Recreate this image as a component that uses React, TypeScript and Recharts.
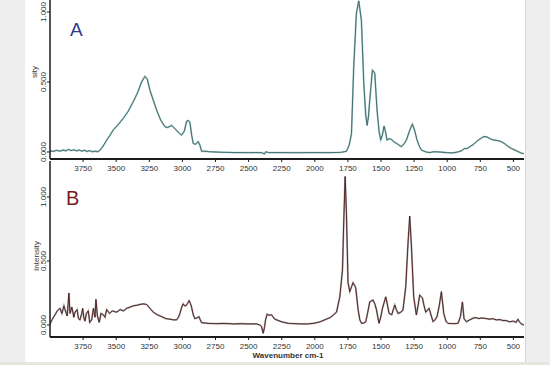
import {Line, LineChart, XAxis, YAxis} from "recharts";

// wavenumber (cm-1), intensity
const spectrumA: [number, number][] = [
    [4000, 0.008], [3975, 0.004], [3950, 0.012], [3925, 0.006], [3900, 0.014], [3880, 0.008],
    [3860, 0.018], [3840, 0.01], [3820, 0.016], [3800, 0.008], [3780, 0.014], [3760, 0.006],
    [3740, 0.012], [3720, 0.004], [3700, 0.01], [3680, 0.002], [3660, 0.006], [3640, 0.002],
    [3623, 0.012], [3600, 0.04], [3575, 0.08], [3547, 0.12], [3520, 0.16], [3490, 0.19],
    [3447, 0.24], [3410, 0.29], [3371, 0.36], [3340, 0.42], [3308, 0.5], [3283, 0.54],
    [3265, 0.52], [3245, 0.44], [3220, 0.37], [3195, 0.3], [3165, 0.23], [3132, 0.18],
    [3110, 0.175], [3082, 0.19], [3060, 0.17], [3030, 0.14], [3006, 0.12], [2985, 0.15],
    [2968, 0.22], [2955, 0.225], [2943, 0.21], [2930, 0.12], [2918, 0.06], [2900, 0.055],
    [2881, 0.075], [2868, 0.05], [2855, 0.005], [2830, 0.006], [2800, 0.002], [2750, 0.0],
    [2700, -0.002], [2650, -0.003], [2600, -0.004], [2550, -0.004], [2500, -0.005], [2450, -0.004],
    [2400, -0.005], [2380, -0.014], [2370, 0.002], [2350, -0.004], [2300, -0.004], [2200, -0.005],
    [2100, -0.005], [2000, -0.004], [1900, -0.005], [1800, -0.002], [1761, 0.005], [1740, 0.05],
    [1723, 0.13], [1706, 0.61], [1686, 0.99], [1668, 1.08], [1648, 0.94], [1630, 0.49],
    [1615, 0.26], [1605, 0.19], [1595, 0.25], [1585, 0.37], [1565, 0.585], [1555, 0.575],
    [1547, 0.56], [1530, 0.3], [1515, 0.15], [1502, 0.086], [1490, 0.12], [1477, 0.186],
    [1465, 0.14], [1455, 0.086], [1440, 0.095], [1421, 0.09], [1400, 0.07], [1383, 0.062],
    [1365, 0.05], [1346, 0.038], [1325, 0.06], [1308, 0.086], [1285, 0.15], [1263, 0.2],
    [1245, 0.15], [1228, 0.086], [1210, 0.04], [1195, 0.014], [1160, 0.0], [1132, -0.004],
    [1100, 0.002], [1056, 0.0], [1000, -0.005], [956, -0.006], [920, 0.0], [890, 0.01],
    [868, 0.026], [850, 0.024], [830, 0.038], [800, 0.055], [780, 0.074], [750, 0.095],
    [725, 0.11], [700, 0.108], [680, 0.097], [654, 0.086], [620, 0.082], [591, 0.074],
    [560, 0.055], [540, 0.04], [516, 0.026], [480, 0.01], [440, -0.008], [420, -0.012],
];

const spectrumB: [number, number][] = [
    [4000, 0.008], [3985, 0.04], [3962, 0.08], [3945, 0.11], [3925, 0.13], [3910, 0.09],
    [3895, 0.15], [3887, 0.12], [3870, 0.07], [3857, 0.25], [3849, 0.09], [3835, 0.14],
    [3820, 0.06], [3811, 0.1], [3795, 0.12], [3785, 0.05], [3774, 0.04], [3760, 0.09],
    [3753, 0.13], [3745, 0.06], [3736, 0.03], [3725, 0.09], [3711, 0.11], [3700, 0.02],
    [3685, 0.04], [3672, 0.13], [3660, 0.06], [3653, 0.2], [3642, 0.07], [3628, 0.02],
    [3615, 0.09], [3598, 0.08], [3585, 0.06], [3572, 0.12], [3550, 0.09], [3530, 0.11],
    [3497, 0.1], [3470, 0.12], [3445, 0.11], [3421, 0.13], [3395, 0.14], [3371, 0.15],
    [3340, 0.155], [3320, 0.16], [3296, 0.165], [3270, 0.16], [3245, 0.13], [3220, 0.1],
    [3190, 0.08], [3157, 0.065], [3125, 0.05], [3094, 0.045], [3070, 0.04], [3044, 0.04],
    [3030, 0.06], [3019, 0.09], [3005, 0.14], [2994, 0.165], [2984, 0.15], [2974, 0.15],
    [2960, 0.17], [2949, 0.19], [2940, 0.17], [2931, 0.14], [2918, 0.08], [2906, 0.05],
    [2890, 0.055], [2875, 0.065], [2865, 0.04], [2855, 0.018], [2800, 0.012], [2740, 0.01],
    [2680, 0.012], [2615, 0.008], [2560, 0.01], [2500, 0.008], [2440, 0.008], [2415, 0.0],
    [2402, -0.013], [2390, -0.065], [2380, -0.02], [2372, 0.04], [2360, 0.084], [2345, 0.075],
    [2327, 0.08], [2302, 0.045], [2250, 0.025], [2201, 0.013], [2150, 0.01], [2100, 0.008],
    [2051, 0.008], [2000, 0.014], [1960, 0.025], [1925, 0.04], [1880, 0.06], [1836, 0.1],
    [1811, 0.22], [1791, 0.43], [1781, 0.82], [1771, 1.16], [1761, 0.87], [1749, 0.33],
    [1736, 0.26], [1722, 0.3], [1711, 0.33], [1700, 0.31], [1691, 0.29], [1673, 0.12],
    [1660, 0.04], [1647, 0.013], [1630, 0.015], [1615, 0.026], [1600, 0.1], [1585, 0.18],
    [1560, 0.195], [1545, 0.16], [1534, 0.117], [1522, 0.05], [1515, 0.013], [1500, 0.07],
    [1489, 0.13], [1464, 0.22], [1450, 0.15], [1439, 0.09], [1419, 0.08], [1396, 0.156],
    [1384, 0.12], [1371, 0.09], [1350, 0.1], [1334, 0.117], [1313, 0.3], [1296, 0.64],
    [1283, 0.85], [1270, 0.61], [1253, 0.22], [1233, 0.078], [1220, 0.15], [1208, 0.234],
    [1187, 0.21], [1175, 0.15], [1162, 0.1], [1137, 0.13], [1120, 0.07], [1107, 0.026],
    [1092, 0.04], [1077, 0.065], [1060, 0.15], [1044, 0.26], [1026, 0.09], [1010, 0.03],
    [994, 0.013], [950, 0.01], [918, 0.013], [900, 0.065], [885, 0.18], [873, 0.05],
    [855, 0.025], [830, 0.04], [800, 0.055], [780, 0.057], [760, 0.05], [740, 0.055],
    [704, 0.05], [680, 0.045], [660, 0.05], [629, 0.04], [600, 0.042], [580, 0.035],
    [553, 0.034], [530, 0.025], [500, 0.03], [480, 0.02], [466, 0.045], [455, 0.025],
    [440, 0.008], [420, 0.0],
];

const xTicks = [3750, 3500, 3250, 3000, 2750, 2500, 2250, 2000, 1750, 1500, 1250, 1000, 750, 500];
const yTicks = [0, 0.5, 1];

const dataA = spectrumA.map(([wn, v]) => ({wn, v}));
const dataB = spectrumB.map(([wn, v]) => ({wn, v}));

const font = "Liberation Sans, Arial, sans-serif";
const axisColor = "#1c1c1c";

function YTick({x, y, payload}: any) {
    return (
        <text x={x} y={y} transform={`rotate(-90 ${x} ${y})`} textAnchor="middle"
              fontSize={8} fontFamily={font} fill="#333">
            {Number(payload.value).toFixed(3)}
        </text>
    );
}

function XTick({x, y, payload}: any) {
    return (
        <text x={x} y={y + 7} textAnchor="middle" fontSize={8} fontFamily={font} fill="#333">
            {payload.value}
        </text>
    );
}

function Panel({data, height, domain, halo, stroke, xAxisHeight}: any) {
    return (
        <LineChart width={550} height={height} data={data}
                   margin={{top: 0, right: 26, left: 0, bottom: 0}}>
            <XAxis dataKey='wn' type='number' domain={[420, 4000]} reversed ticks={xTicks}
                   interval={0} allowDataOverflow height={xAxisHeight} tick={<XTick/>} tickSize={3}
                   axisLine={{stroke: axisColor, strokeWidth: 2}} tickLine={{stroke: axisColor}}/>
            <YAxis type='number' domain={domain} ticks={yTicks} interval={0} allowDataOverflow width={50}
                   tick={<YTick/>} tickSize={3} tickMargin={1}
                   axisLine={{stroke: axisColor, strokeWidth: 1.5}} tickLine={{stroke: axisColor}}/>
            <Line type='linear' dataKey='v' stroke={halo} strokeWidth={1.8} dot={false}
                  isAnimationActive={false}/>
            <Line type='linear' dataKey='v' stroke={stroke} strokeWidth={0.9} dot={false}
                  isAnimationActive={false}/>
        </LineChart>
    );
}

export default function App() {
    return (
        <div style={{position: 'relative', width: 550, height: 365, background: '#eeeeee', overflow: 'hidden'}}>
            <style>{`body{margin:0}`}</style>
            <div style={{position: 'absolute', left: 25, top: 0, width: 500, height: 362,
                background: '#ffffff', borderRight: '1px solid #d6d6d6'}}/>
            <div style={{position: 'absolute', left: 0, top: 362, width: 550, height: 3, background: '#e6e6e0'}}/>
            <div style={{position: 'absolute', left: 0, top: 0}}>
                <Panel data={dataA} height={175} domain={[-0.05, 1.0857]} halo='#a3c8c8'
                       stroke='#3b6262' xAxisHeight={16}/>
            </div>
            <div style={{position: 'absolute', left: 0, top: 161}}>
                <Panel data={dataB} height={200} domain={[-0.094, 1.281]} halo='#aaaaaa'
                       stroke='#4a1818' xAxisHeight={24}/>
            </div>
            <svg width={550} height={365} style={{position: 'absolute', left: 0, top: 0, pointerEvents: 'none'}}>
                <text x={70} y={36} fontSize={19} fontFamily={font} fill="#2b3a92">A</text>
                <text x={66} y={205} fontSize={20} fontFamily={font} fill="#7a1c1c">B</text>
                <text x={37} y={72} transform="rotate(-90 37 72)" textAnchor="middle" fontSize={8}
                      fontFamily={font} fill="#333">sity</text>
                <text x={39} y={256} transform="rotate(-90 39 256)" textAnchor="middle" fontSize={8}
                      fontFamily={font} fill="#333">Intensity</text>
                <text x={288} y={358} textAnchor="middle" fontSize={8} fontWeight="bold"
                      fontFamily={font} fill="#333">Wavenumber cm-1</text>
            </svg>
        </div>
    );
}
